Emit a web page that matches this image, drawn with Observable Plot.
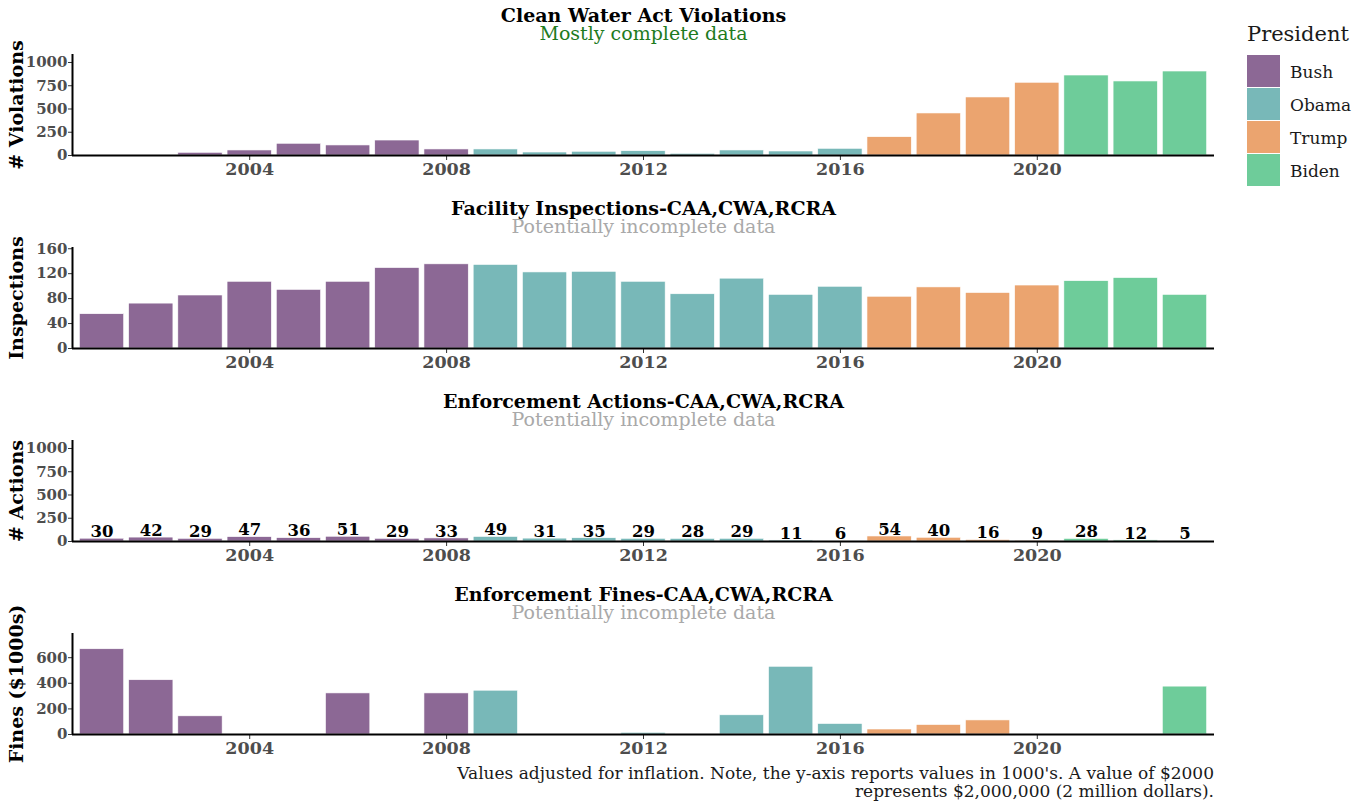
<!DOCTYPE html>
<html>
<head>
<meta charset="utf-8">
<script src="https://cdn.jsdelivr.net/npm/d3@7"></script>
<script src="https://cdn.jsdelivr.net/npm/@observablehq/plot@0.6"></script>
<style>
  html, body { margin: 0; padding: 0; background: #fff; }
  #root { position: relative; width: 1364px; height: 803px; font-family: "DejaVu Serif", serif; }
  #root svg { display: block; position: absolute; left: 0; }
  #legend { position: absolute; left: 1247px; top: 21px; color: #1a1a1a; }
  #legend .ttl { font-size: 21px; line-height: 26px; height: 34px; }
  #legend .row { display: flex; align-items: center; height: 33px; }
  #legend .sw { width: 33px; height: 32px; margin-right: 10px; border-bottom: 1px solid #fff; }
  #legend .lb { font-size: 17px; }
  #caption { position: absolute; right: 150px; top: 764px; text-align: right; font-size: 17px; line-height: 18px; color: #1a1a1a; }
</style>
</head>
<body>
<div id="root"></div>
<script>
// ---- data ----
const years = [2001, 2002, 2003, 2004, 2005, 2006, 2007, 2008, 2009, 2010, 2011, 2012,
               2013, 2014, 2015, 2016, 2017, 2018, 2019, 2020, 2021, 2022, 2023];
const presidentByYear = ["Bush", "Bush", "Bush", "Bush", "Bush", "Bush", "Bush", "Bush",
                         "Obama", "Obama", "Obama", "Obama", "Obama", "Obama", "Obama", "Obama",
                         "Trump", "Trump", "Trump", "Trump", "Biden", "Biden", "Biden"];
const violations = [0, 0, 29, 54, 126, 108, 161, 65, 65, 32, 40, 46, 18, 54, 43, 72, 197, 452, 624, 782, 860, 796, 903];
const inspections = [55, 72, 85, 107, 94, 107, 129, 135, 134, 122, 123, 107, 87, 112, 86, 99, 83, 98, 89, 101, 108, 113, 86];
const actions = [30, 42, 29, 47, 36, 51, 29, 33, 49, 31, 35, 29, 28, 29, 11, 6, 54, 40, 16, 9, 28, 12, 5];
const fines = [666, 424, 142, 0, 0, 321, 0, 321, 342, 0, 0, 13, 0, 150, 529, 82, 39, 74, 110, 0, 0, 0, 374];

const presidents = ["Bush", "Obama", "Trump", "Biden"];
const presColors = ["#8c6895", "#78b8b8", "#eba46f", "#6ecc9a"];
const xTicks = [2004, 2008, 2012, 2016, 2020];

const panels = [
  {title: "Clean Water Act Violations", subtitle: "Mostly complete data", subColor: "#1e7b1e",
   ylabel: "# Violations", values: violations, yDomain: [0, 1086], yTicks: [0, 250, 500, 750, 1000], labels: false},
  {title: "Facility Inspections-CAA,CWA,RCRA", subtitle: "Potentially incomplete data", subColor: "#a9a9a9",
   ylabel: "Inspections", values: inspections, yDomain: [0, 162], yTicks: [0, 40, 80, 120, 160], labels: false},
  {title: "Enforcement Actions-CAA,CWA,RCRA", subtitle: "Potentially incomplete data", subColor: "#a9a9a9",
   ylabel: "# Actions", values: actions, yDomain: [0, 1086], yTicks: [0, 250, 500, 750, 1000], labels: true},
  {title: "Enforcement Fines-CAA,CWA,RCRA", subtitle: "Potentially incomplete data", subColor: "#a9a9a9",
   ylabel: "Fines ($1000s)", values: fines, yDomain: [0, 789], yTicks: [0, 200, 400, 600], labels: false}
];
const panelTops = [0, 193, 386, 579];

const root = document.getElementById("root");

panels.forEach((p, i) => {
  const rows = years.map((yr, j) => ({year: yr, value: p.values[j], president: presidentByYear[j]}));
  const marks = [
    Plot.rectY(rows, {x1: d => d.year - 0.45, x2: d => d.year + 0.45, y1: 0, y2: "value",
      fill: "president", stroke: "white", strokeWidth: 0.6}),
    Plot.axisX({ticks: xTicks, tickFormat: d => String(d), tickSize: 5, tickPadding: 2,
      fontSize: 17.5, fontWeight: "bold", color: "#4d4d4d", stroke: "#333", label: null}),
    Plot.axisY({ticks: p.yTicks, tickFormat: d => String(d), tickSize: 4, tickPadding: 1,
      fontSize: 15, fontWeight: "bold", color: "#4d4d4d", stroke: "#333", label: null}),
    Plot.ruleY([0], {stroke: "black", strokeWidth: 2}),
    Plot.ruleX([2000.4], {stroke: "black", strokeWidth: 2}),
    Plot.text([p.title], {frameAnchor: "top", dy: -39, lineAnchor: "middle", text: d => d,
      fontSize: 19, fontWeight: "bold", fill: "black"}),
    Plot.text([p.subtitle], {frameAnchor: "top", dy: -21, lineAnchor: "middle", text: d => d,
      fontSize: 19, fill: p.subColor}),
    Plot.text([p.ylabel], {frameAnchor: "left", dx: -56, rotate: -90, text: d => d,
      fontSize: 19, fontWeight: "bold", fill: "black", textAnchor: "middle", lineAnchor: "middle"})
  ];
  if (p.labels) {
    marks.push(Plot.text(rows, {x: "year", y: "value", text: d => String(d.value), dy: -7,
      lineAnchor: "middle", fontSize: 16.5, fontWeight: "bold", fill: "black"}));
  }
  const chart = Plot.plot({
    width: 1240,
    height: 193,
    marginLeft: 72,
    marginRight: 26,
    marginTop: 54,
    marginBottom: 38,
    style: {fontFamily: "'DejaVu Serif', serif", background: "transparent", overflow: "visible"},
    x: {type: "linear", domain: [2000.4, 2023.6]},
    y: {domain: p.yDomain},
    color: {domain: presidents, range: presColors},
    marks
  });
  chart.style.top = panelTops[i] + "px";
  root.appendChild(chart);
});

// legend
const legend = document.createElement("div");
legend.id = "legend";
legend.innerHTML = `<div class="ttl">President</div>` + presidents.map((name, k) =>
  `<div class="row"><div class="sw" style="background:${presColors[k]}"></div><div class="lb">${name}</div></div>`).join("");
root.appendChild(legend);

// caption
const captionLines = ["Values adjusted for inflation. Note, the y-axis reports values in 1000's. A value of $2000",
                      "represents $2,000,000 (2 million dollars)."];
const cap = document.createElement("div");
cap.id = "caption";
cap.innerHTML = captionLines.join("<br>");
root.appendChild(cap);
</script>
</body>
</html>
